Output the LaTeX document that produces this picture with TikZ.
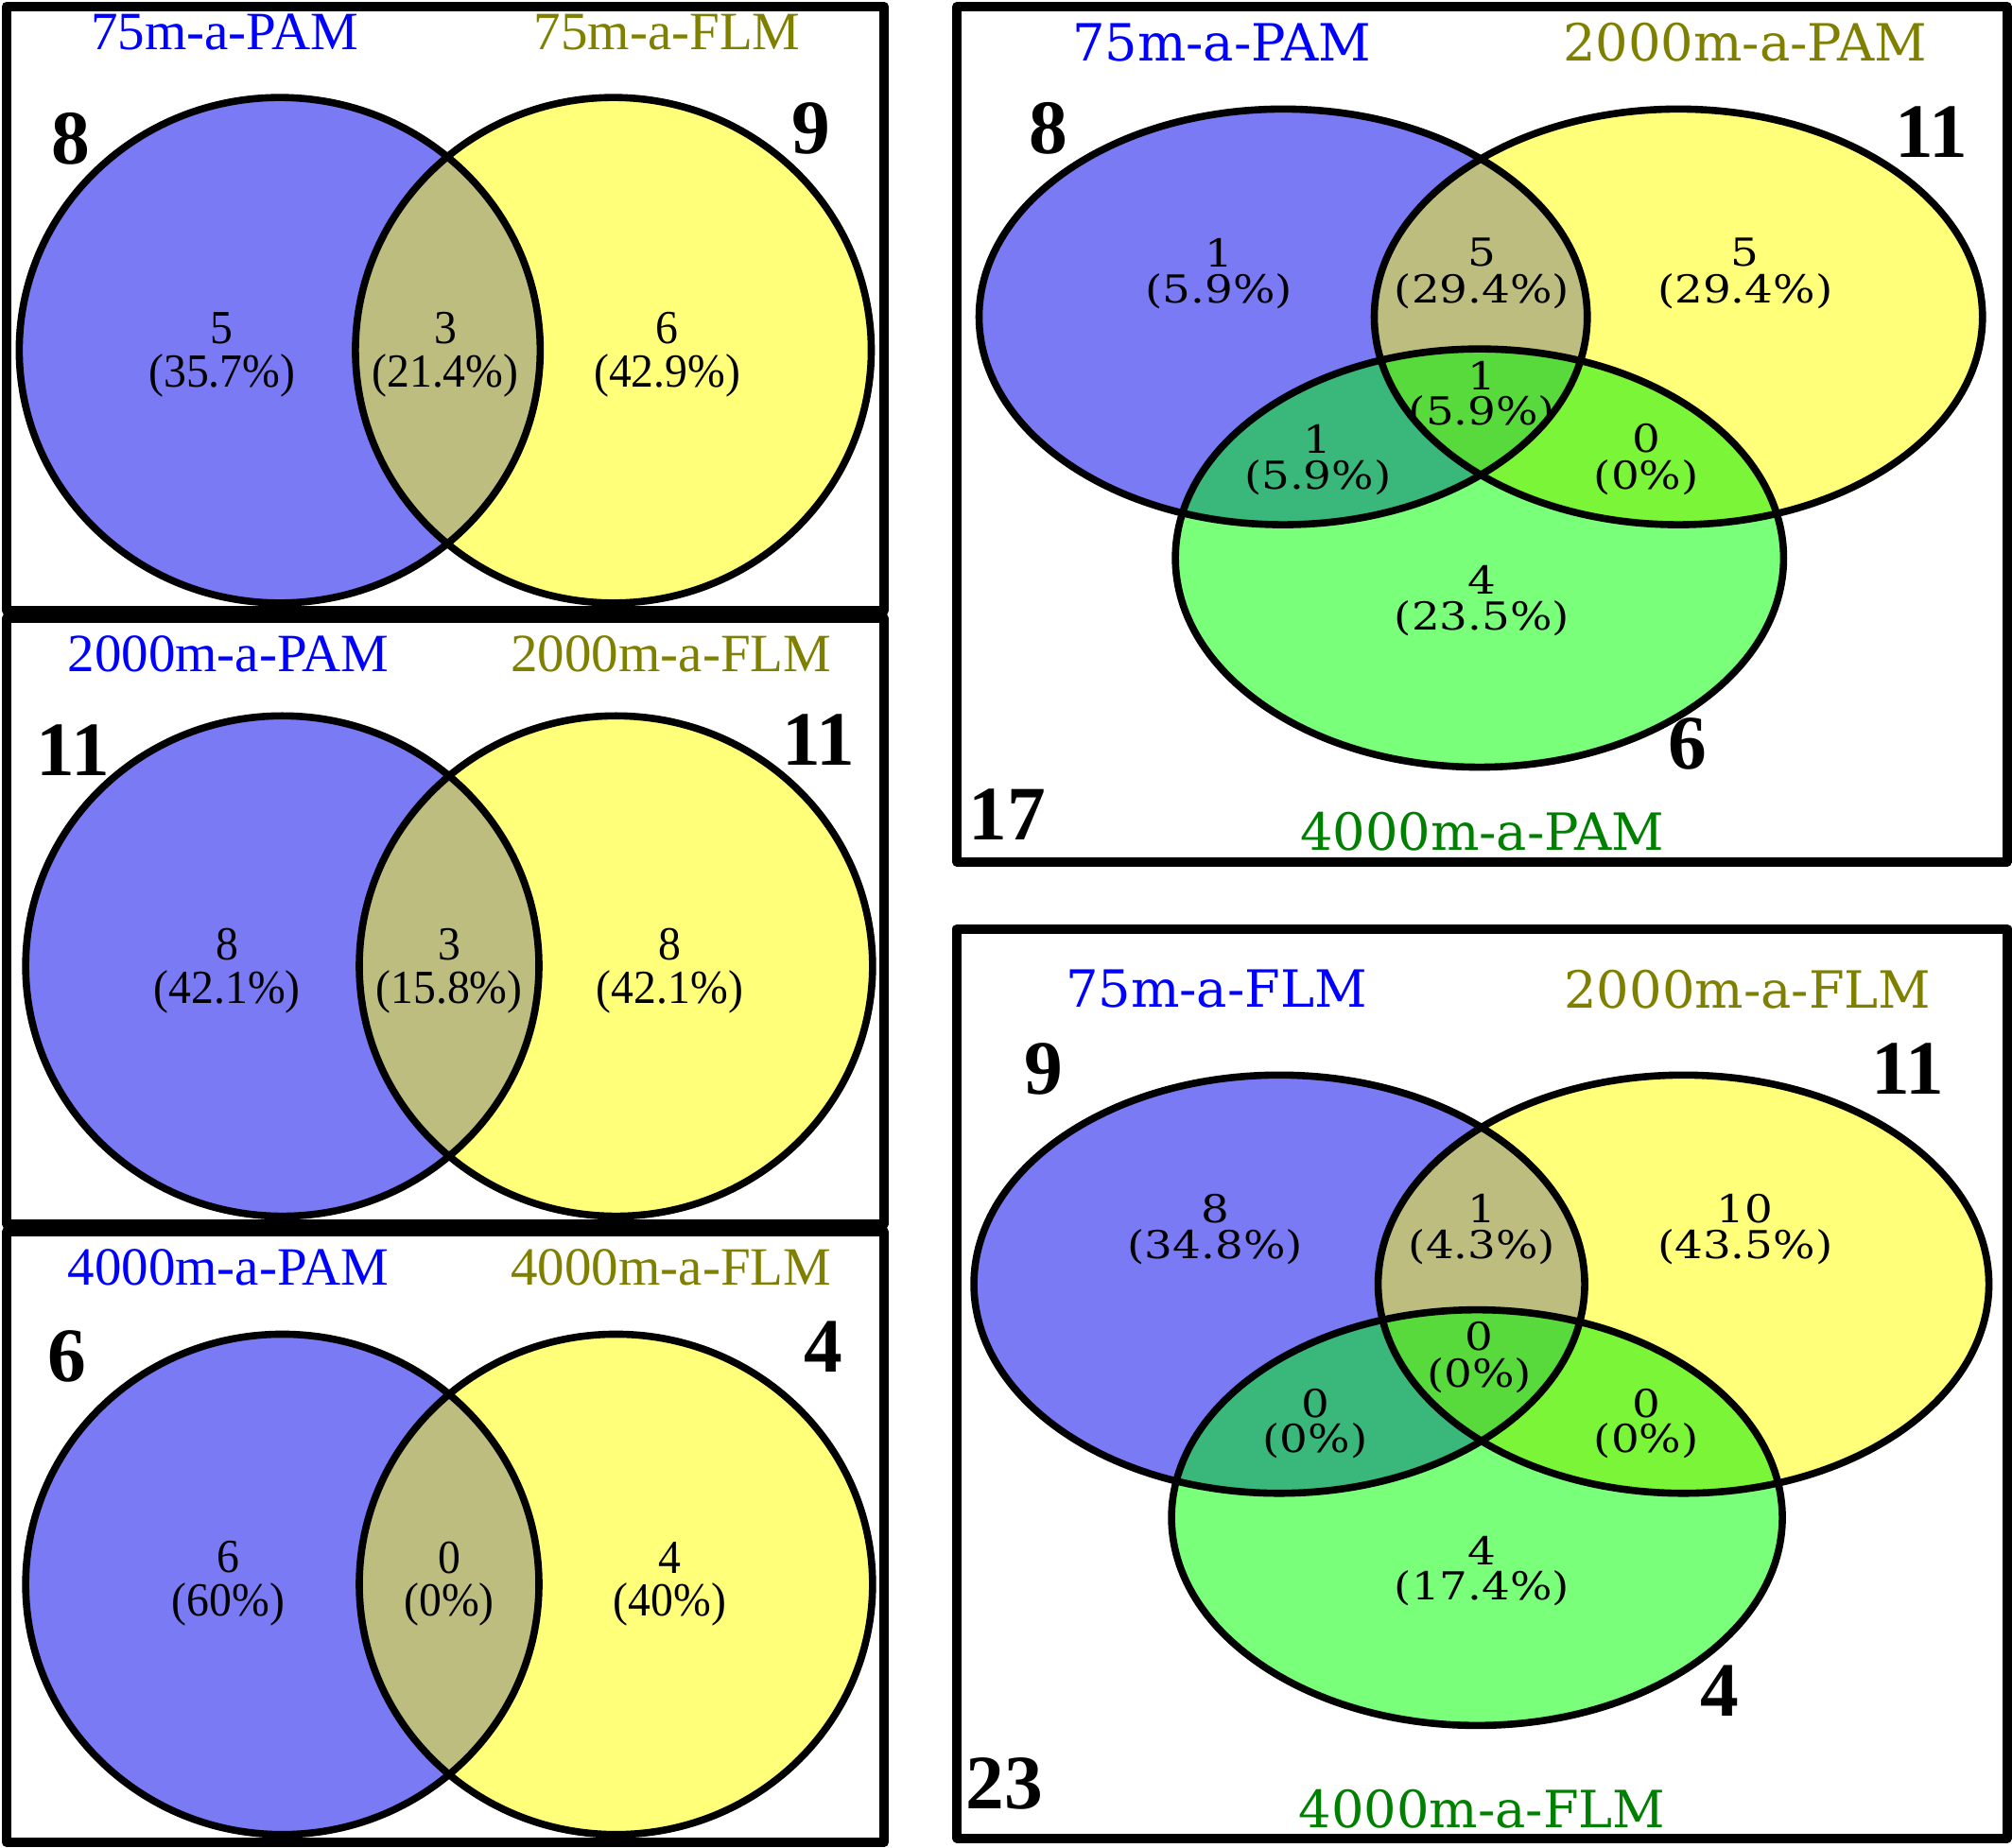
\documentclass[tikz,border=0pt]{standalone}
\usepackage{graphicx}
\usepackage{fontspec}
\setmainfont{Liberation Serif}
\newfontfamily\wideserif{DejaVu Serif}
\newcommand{\sqz}[1]{\scalebox{0.95}[1]{#1}}
\newcommand{\wsq}[1]{\scalebox{1.15}[1]{#1}}
\definecolor{vblue}{HTML}{7A7AF5}
\definecolor{vyellow}{HTML}{FFFF7A}
\definecolor{volive}{HTML}{BDBD80}
\definecolor{vgreen}{HTML}{7AFF7A}
\definecolor{vbg}{HTML}{3AB77A}
\definecolor{vlime}{HTML}{7AF537}
\definecolor{vcenter}{HTML}{58DA3C}
\definecolor{tblue}{HTML}{0000FF}
\definecolor{tolive}{HTML}{808000}
\definecolor{tgreen}{HTML}{008000}
\tikzset{
  panel/.style={draw=black, line width=3.7pt, line join=round},
  setline/.style={draw=black, line width=2.8pt},
  title/.style={font=\fontsize{21}{21}\selectfont, inner sep=0pt},
  wtitle/.style={font=\wideserif\fontsize{20}{20}\selectfont, inner sep=0pt},
  cnt/.style={font=\bfseries\fontsize{30}{30}\selectfont, inner sep=0pt},
  reg/.style={font=\fontsize{18.5}{18.5}\selectfont, inner sep=0pt},
  wreg/.style={font=\wideserif\fontsize{15}{15}\selectfont, inner sep=0pt},
}
\begin{document}
\begin{tikzpicture}[x=0.5pt,y=-0.5pt]
\useasboundingbox (0,0) rectangle (1568,1440);
\fill[white] (0,0) rectangle (1568,1440);

% ---------- Panel A ----------
\coordinate (A1) at (218,273);
\coordinate (A2) at (478,273);
\fill[vblue] (A1) ellipse (203 and 197);
\fill[vyellow] (A2) ellipse (201 and 197);
\begin{scope}
  \clip (A1) ellipse (203 and 197);
  \fill[volive] (A2) ellipse (201 and 197);
\end{scope}
\draw[setline] (A1) ellipse (203 and 197);
\draw[setline] (A2) ellipse (201 and 197);
\draw[panel] (5,5) rectangle (689,476);
\node[title, text=tblue] (ta1) at (175,25) {75m-a-PAM};
\node[title, text=tolive] (ta2) at (520,25) {75m-a-FLM};
\node[cnt] (na1) at (55,108) {8};
\node[cnt] (na2) at (632,100) {9};
\node[reg] (ra1n) at (173,256) {\sqz{5}};
\node[reg] (ra1p) at (173,293) {\sqz{(35.7\%)}};
\node[reg] (ra2n) at (347,256) {\sqz{3}};
\node[reg] (ra2p) at (347,293) {\sqz{(21.4\%)}};
\node[reg] (ra3n) at (520,256) {\sqz{6}};
\node[reg] (ra3p) at (520,293) {\sqz{(42.9\%)}};

% ---------- Panel B ----------
\coordinate (B1) at (220,753);
\coordinate (B2) at (480,753);
\fill[vblue] (B1) ellipse (200 and 195);
\fill[vyellow] (B2) ellipse (200 and 195);
\begin{scope}
  \clip (B1) ellipse (200 and 195);
  \fill[volive] (B2) ellipse (200 and 195);
\end{scope}
\draw[setline] (B1) ellipse (200 and 195);
\draw[setline] (B2) ellipse (200 and 195);
\draw[panel] (5,482) rectangle (689,954);
\node[title, text=tblue] (tb1) at (178,510) {2000m-a-PAM};
\node[title, text=tolive] (tb2) at (523,510) {2000m-a-FLM};
\node[cnt] (nb1) at (57,585) {11};
\node[cnt] (nb2) at (638,577) {11};
\node[reg] (rb1n) at (177,736) {\sqz{8}};
\node[reg] (rb1p) at (177,773) {\sqz{(42.1\%)}};
\node[reg] (rb2n) at (350,736) {\sqz{3}};
\node[reg] (rb2p) at (350,773) {\sqz{(15.8\%)}};
\node[reg] (rb3n) at (522,736) {\sqz{8}};
\node[reg] (rb3p) at (522,773) {\sqz{(42.1\%)}};

% ---------- Panel C ----------
\coordinate (C1) at (220,1235);
\coordinate (C2) at (480,1235);
\fill[vblue] (C1) ellipse (200 and 195);
\fill[vyellow] (C2) ellipse (200 and 195);
\begin{scope}
  \clip (C1) ellipse (200 and 195);
  \fill[volive] (C2) ellipse (200 and 195);
\end{scope}
\draw[setline] (C1) ellipse (200 and 195);
\draw[setline] (C2) ellipse (200 and 195);
\draw[panel] (5,960) rectangle (689,1436);
\node[title, text=tblue] (tc1) at (178,988) {4000m-a-PAM};
\node[title, text=tolive] (tc2) at (523,988) {4000m-a-FLM};
\node[cnt] (nc1) at (52,1057) {6};
\node[cnt] (nc2) at (642,1050) {4};
\node[reg] (rc1n) at (178,1214) {\sqz{6}};
\node[reg] (rc1p) at (178,1251) {\sqz{(60\%)}};
\node[reg] (rc2n) at (350,1214) {\sqz{0}};
\node[reg] (rc2p) at (350,1251) {\sqz{(0\%)}};
\node[reg] (rc3n) at (522,1214) {\sqz{4}};
\node[reg] (rc3p) at (522,1251) {\sqz{(40\%)}};

% ---------- Panel D ----------
\coordinate (D1) at (1000,247);
\coordinate (D2) at (1308,247);
\coordinate (D3) at (1153,435);
\fill[vblue] (D1) ellipse (237 and 162);
\fill[vyellow] (D2) ellipse (237 and 162);
\fill[vgreen] (D3) ellipse (237 and 163);
\begin{scope}
  \clip (D1) ellipse (237 and 162);
  \fill[volive] (D2) ellipse (237 and 162);
  \fill[vbg] (D3) ellipse (237 and 163);
\end{scope}
\begin{scope}
  \clip (D2) ellipse (237 and 162);
  \clip (D3) ellipse (237 and 163);
  \fill[vlime] (0,0) rectangle (1568,1440);
  \fill[vcenter] (D1) ellipse (237 and 162);
\end{scope}
\draw[setline] (D1) ellipse (237 and 162);
\draw[setline] (D2) ellipse (237 and 162);
\draw[setline] (D3) ellipse (237 and 163);
\draw[panel] (746,5) rectangle (1564,672);
\node[wtitle, text=tblue] (td1) at (952,33) {75m-a-PAM};
\node[wtitle, text=tolive] (td2) at (1360,33) {2000m-a-PAM};
\node[wtitle, text=tgreen] (td3) at (1155,648) {4000m-a-PAM};
\node[cnt] (nd1) at (817,100) {8};
\node[cnt] (nd2) at (1505,103) {11};
\node[cnt] (nd3) at (1315,580) {6};
\node[cnt] (nd4) at (785,635) {17};
\node[wreg] (rd1n) at (950,197) {\wsq{1}};
\node[wreg] (rd1p) at (950,227) {\wsq{(5.9\%)}};
\node[wreg] (rd2n) at (1155,197) {\wsq{5}};
\node[wreg] (rd2p) at (1155,227) {\wsq{(29.4\%)}};
\node[wreg] (rd3n) at (1360,197) {\wsq{5}};
\node[wreg] (rd3p) at (1360,227) {\wsq{(29.4\%)}};
\node[wreg] (rd4n) at (1155,293) {\wsq{1}};
\node[wreg] (rd4p) at (1155,322) {\wsq{(5.9\%)}};
\node[wreg] (rd5n) at (1027,342) {\wsq{1}};
\node[wreg] (rd5p) at (1027,372) {\wsq{(5.9\%)}};
\node[wreg] (rd6n) at (1283,342) {\wsq{0}};
\node[wreg] (rd6p) at (1283,372) {\wsq{(0\%)}};
\node[wreg] (rd7n) at (1155,452) {\wsq{4}};
\node[wreg] (rd7p) at (1155,482) {\wsq{(23.5\%)}};

% ---------- Panel E ----------
\coordinate (E1) at (997,1001);
\coordinate (E2) at (1312,1001);
\coordinate (E3) at (1151,1183);
\fill[vblue] (E1) ellipse (238 and 163);
\fill[vyellow] (E2) ellipse (238 and 163);
\fill[vgreen] (E3) ellipse (238 and 162);
\begin{scope}
  \clip (E1) ellipse (238 and 163);
  \fill[volive] (E2) ellipse (238 and 163);
  \fill[vbg] (E3) ellipse (238 and 162);
\end{scope}
\begin{scope}
  \clip (E2) ellipse (238 and 163);
  \clip (E3) ellipse (238 and 162);
  \fill[vlime] (0,0) rectangle (1568,1440);
  \fill[vcenter] (E1) ellipse (238 and 163);
\end{scope}
\draw[setline] (E1) ellipse (238 and 163);
\draw[setline] (E2) ellipse (238 and 163);
\draw[setline] (E3) ellipse (238 and 162);
\draw[panel] (746,724) rectangle (1564,1433);
\node[wtitle, text=tblue] (te1) at (948,771) {75m-a-FLM};
\node[wtitle, text=tolive] (te2) at (1362,771) {2000m-a-FLM};
\node[wtitle, text=tgreen] (te3) at (1155,1410) {4000m-a-FLM};
\node[cnt] (ne1) at (813,833) {9};
\node[cnt] (ne2) at (1487,833) {11};
\node[cnt] (ne3) at (1340,1318) {4};
\node[cnt] (ne4) at (783,1390) {23};
\node[wreg] (re1n) at (947,942) {\wsq{8}};
\node[wreg] (re1p) at (947,972) {\wsq{(34.8\%)}};
\node[wreg] (re2n) at (1155,942) {\wsq{1}};
\node[wreg] (re2p) at (1155,972) {\wsq{(4.3\%)}};
\node[wreg] (re3n) at (1360,942) {\wsq{10}};
\node[wreg] (re3p) at (1360,972) {\wsq{(43.5\%)}};
\node[wreg] (re4n) at (1153,1042) {\wsq{0}};
\node[wreg] (re4p) at (1153,1072) {\wsq{(0\%)}};
\node[wreg] (re5n) at (1025,1094) {\wsq{0}};
\node[wreg] (re5p) at (1025,1123) {\wsq{(0\%)}};
\node[wreg] (re6n) at (1283,1094) {\wsq{0}};
\node[wreg] (re6p) at (1283,1123) {\wsq{(0\%)}};
\node[wreg] (re7n) at (1155,1209) {\wsq{4}};
\node[wreg] (re7p) at (1155,1238) {\wsq{(17.4\%)}};
\end{tikzpicture}
\end{document}
